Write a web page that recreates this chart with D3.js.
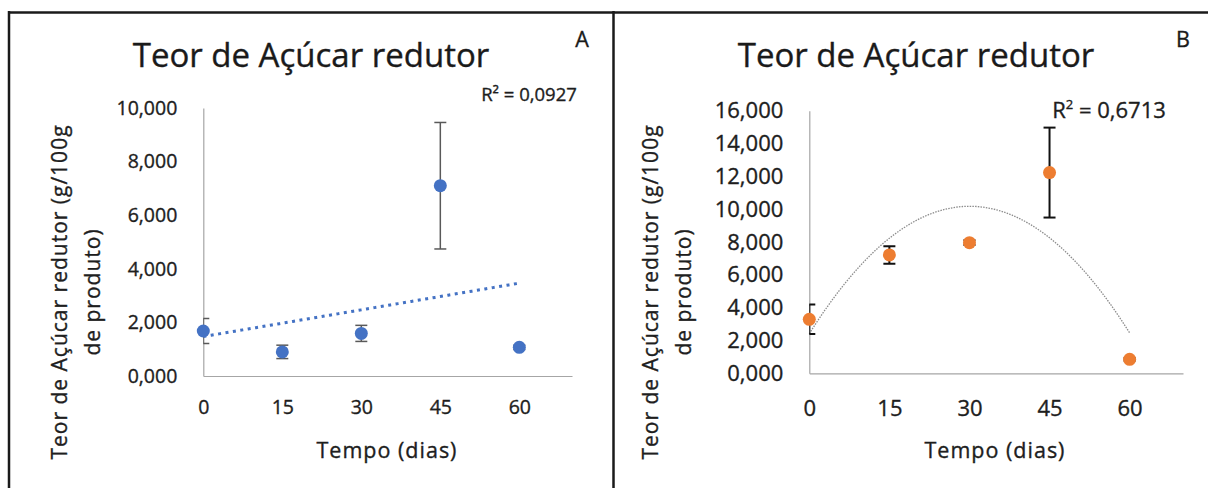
<!DOCTYPE html>
<html>
<head>
<meta charset="utf-8">
<script src="https://cdn.jsdelivr.net/npm/d3@7"></script>
<style>
  body { margin: 0; background: #fff; }
  svg { display: block; font-family: "Open Sans", sans-serif; }
  svg text { stroke: #1a1a1a; stroke-width: 0.35px; }
</style>
</head>
<body>
<script>
// dados
var dias = [0, 15, 30, 45, 60];
var acucarA = [1.68, 0.90, 1.59, 7.10, 1.07];
var erroA = [0.47, 0.25, 0.30, 2.36, 0.08];
var acucarB = [3.29, 7.21, 7.96, 12.23, 0.85];
var erroB = [0.90, 0.53, 0.15, 2.74, 0.08];
var yTicksA = [0, 2, 4, 6, 8, 10];
var yTicksB = [0, 2, 4, 6, 8, 10, 12, 14, 16];
var xTicks = [0, 15, 30, 45, 60];
var r2A = "0,0927";
var r2B = "0,6713";

var width = 1208, height = 488;
var svg = d3.select("body").append("svg")
    .attr("width", width)
    .attr("height", height);

var ptBR = d3.formatLocale({decimal: ",", thousands: ".", grouping: [3], currency: ["", ""]});
var fmt = ptBR.format(".3f");

// moldura
svg.append("line").attr("x1", 8).attr("x2", width).attr("y1", 12.5).attr("y2", 12.5)
  .attr("stroke", "#1a1a1a").attr("stroke-width", 2.5);
svg.append("line").attr("x1", 9).attr("x2", 9).attr("y1", 11).attr("y2", height)
  .attr("stroke", "#1a1a1a").attr("stroke-width", 2.5);
svg.append("line").attr("x1", 613.5).attr("x2", 613.5).attr("y1", 11).attr("y2", height)
  .attr("stroke", "#1a1a1a").attr("stroke-width", 2.5);

// minimos quadrados simples (grau 1 ou 2)
function ajuste(xs, ys, grau) {
  var n = grau + 1;
  var M = [], v = [];
  for (var i = 0; i < n; i++) {
    M.push([]);
    v.push(d3.sum(xs, function(x, k) { return Math.pow(x, i) * ys[k]; }));
    for (var j = 0; j < n; j++) M[i].push(d3.sum(xs, function(x) { return Math.pow(x, i + j); }));
  }
  for (var c = 0; c < n; c++) {
    for (var r = c + 1; r < n; r++) {
      var f = M[r][c] / M[c][c];
      for (var j = c; j < n; j++) M[r][j] -= f * M[c][j];
      v[r] -= f * v[c];
    }
  }
  var coef = new Array(n);
  for (var r = n - 1; r >= 0; r--) {
    var s = v[r];
    for (var j = r + 1; j < n; j++) s -= M[r][j] * coef[j];
    coef[r] = s / M[r][r];
  }
  return function(x) { return d3.sum(coef, function(a, k) { return a * Math.pow(x, k); }); };
}

function painel(cfg) {
  var g = svg.append("g");
  var x = d3.scaleLinear().domain([0, 70]).range(cfg.xRange);
  var y = d3.scaleLinear().domain([0, cfg.yMax]).range(cfg.yRange);

  g.append("text")
    .attr("x", cfg.titleX).attr("y", 67)
    .attr("text-anchor", "middle")
    .attr("font-size", 33)
    .attr("fill", "#1a1a1a")
    .text("Teor de Açúcar redutor");

  g.append("text")
    .attr("x", cfg.letraX).attr("y", 47)
    .attr("text-anchor", "middle")
    .attr("font-size", 21.5)
    .attr("fill", "#1a1a1a")
    .text(cfg.letra);

  var ya = g.append("g")
    .attr("transform", "translate(" + cfg.xRange[0] + ",0)")
    .call(d3.axisLeft(y).tickValues(cfg.yTicks).tickFormat(fmt).tickSize(0).tickPadding(26));
  var xa = g.append("g")
    .attr("transform", "translate(0," + cfg.yRange[0] + ")")
    .call(d3.axisBottom(x).tickValues(xTicks).tickSize(0).tickPadding(cfg.xPad));
  [ya, xa].forEach(function(a) {
    a.select(".domain").attr("stroke", "#a6a6a6").attr("stroke-width", 1.2);
    a.selectAll("text").attr("font-size", cfg.tickSize).attr("fill", "#1f1f1f")
      .attr("font-family", "Open Sans, sans-serif");
  });

  g.append("text")
    .attr("x", cfg.tempoX).attr("y", 458)
    .attr("text-anchor", "middle")
    .attr("font-size", 21.5)
    .attr("letter-spacing", 1)
    .attr("fill", "#1f1f1f")
    .text("Tempo (dias)");

  var yt = g.append("text")
    .attr("transform", "translate(" + cfg.yTitleX + ",292) rotate(-90)")
    .attr("text-anchor", "middle")
    .attr("font-size", 21)
    .attr("letter-spacing", 1)
    .attr("fill", "#1f1f1f");
  yt.append("tspan").attr("x", 0).attr("dy", 0).text("Teor de Açúcar redutor (g/100g");
  yt.append("tspan").attr("x", 0).attr("dy", 33).text("de produto)");

  // linha de tendencia
  var f = ajuste(dias, cfg.valores, cfg.grau);
  var pts = d3.range(0, 60.01, 0.5);
  g.append("path")
    .attr("d", d3.line().x(function(d) { return x(d); }).y(function(d) { return y(f(d)); })(pts))
    .attr("fill", "none")
    .attr("stroke", cfg.trendCor)
    .attr("stroke-width", cfg.trendW)
    .attr("stroke-dasharray", cfg.trendDash);

  // barras de erro, cortadas na area do grafico
  var clipId = "clip" + cfg.letra;
  g.append("clipPath").attr("id", clipId).append("rect")
    .attr("x", cfg.xRange[0]).attr("y", 0)
    .attr("width", cfg.xRange[1] - cfg.xRange[0]).attr("height", height);
  var eb = g.append("g").attr("clip-path", "url(#" + clipId + ")")
    .attr("stroke", cfg.erroCor).attr("stroke-width", cfg.erroW).attr("fill", "none");
  dias.forEach(function(d, i) {
    var cx = x(d), lo = y(cfg.valores[i] - cfg.erros[i]), hi = y(cfg.valores[i] + cfg.erros[i]);
    eb.append("line").attr("x1", cx).attr("x2", cx).attr("y1", lo).attr("y2", hi);
    eb.append("line").attr("x1", cx - 6).attr("x2", cx + 6).attr("y1", lo).attr("y2", lo);
    eb.append("line").attr("x1", cx - 6).attr("x2", cx + 6).attr("y1", hi).attr("y2", hi);
  });

  g.selectAll("circle.pt")
    .data(dias)
    .enter()
    .append("circle")
    .attr("class", "pt")
    .attr("cx", function(d) { return x(d); })
    .attr("cy", function(d, i) { return y(cfg.valores[i]); })
    .attr("r", 6.5)
    .attr("fill", cfg.cor);

  cfg.r2(g);
}

painel({
  letra: "A", letraX: 582, titleX: 311,
  xRange: [203.3, 572], yRange: [376, 108], yMax: 10, yTicks: yTicksA,
  xPad: 24, tickSize: 19.5, tempoX: 387, yTitleX: 67,
  valores: acucarA, erros: erroA, grau: 1, cor: "#4472c4",
  trendCor: "#4472c4", trendW: 3, trendDash: "3,4.5",
  erroCor: "#595959", erroW: 1.5,
  r2: function(g) {
    g.append("text").attr("x", 529).attr("y", 101).attr("text-anchor", "middle")
      .attr("font-size", 18.5).attr("fill", "#1f1f1f").text("R² = " + r2A);
  }
});

painel({
  letra: "B", letraX: 1183, titleX: 916,
  xRange: [809.3, 1183], yRange: [373.3, 110.7], yMax: 16, yTicks: yTicksB,
  xPad: 27, tickSize: 22, tempoX: 995, yTitleX: 658,
  valores: acucarB, erros: erroB, grau: 2, cor: "#ed7d31",
  trendCor: "#8c8c8c", trendW: 1.3, trendDash: "1.5,1.2",
  erroCor: "#111", erroW: 2,
  r2: function(g) {
    var t = g.append("text").attr("x", 1109).attr("y", 118).attr("text-anchor", "middle")
      .attr("font-size", 22).attr("fill", "#1f1f1f");
    t.append("tspan").text("R");
    t.append("tspan").attr("font-size", 13).attr("dy", -9).text("2");
    t.append("tspan").attr("dy", 9).text(" = " + r2B);
  }
});
</script>
</body>
</html>
